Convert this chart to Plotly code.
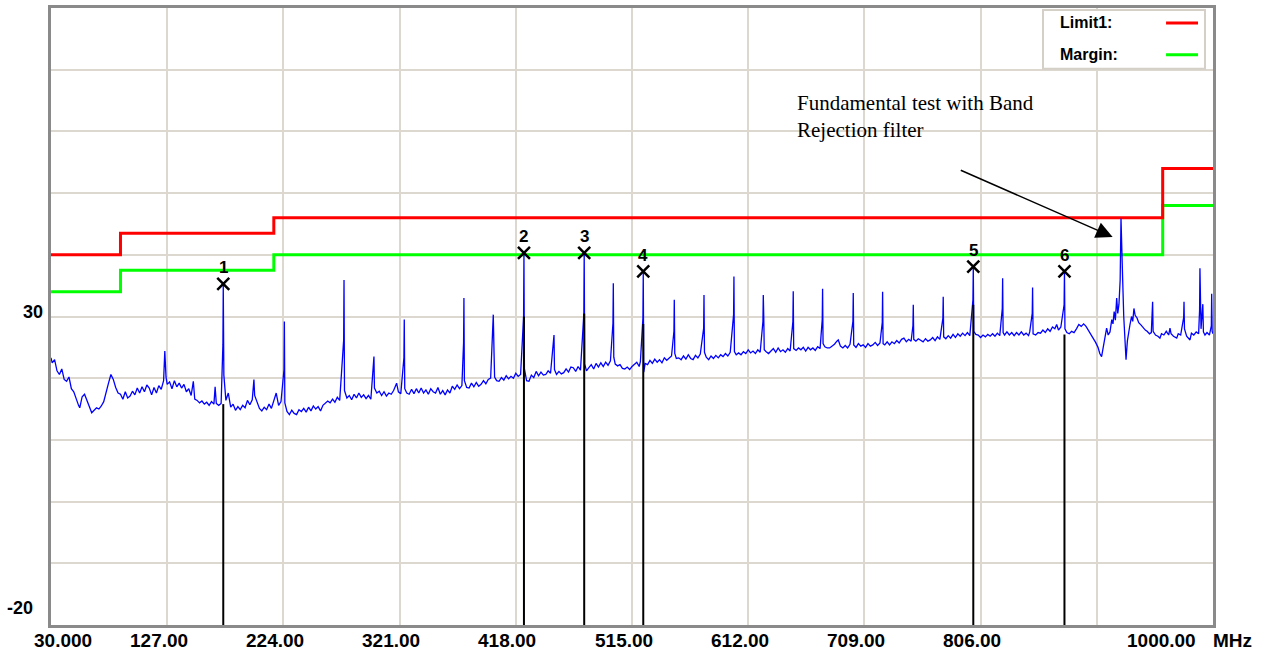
import plotly.graph_objects as go

# ---------------- data ----------------
limit_freq = [30, 88, 216, 958, 1000]
limit1_level = [40.0, 43.5, 46.0, 54.0, 54.0]
margin_level = [34.0, 37.5, 40.0, 48.0, 48.0]

marker_ids = ["1", "2", "3", "4", "5", "6"]
marker_freq = [173.8, 424.8, 475.1, 524.4, 799.9, 876.0]
marker_peak = [35.3, 40.3, 40.3, 37.3, 38.1, 37.3]
marker_qp = [15.8, 30.0, 30.5, 28.8, 31.9, 27.1]

x_tick_vals = [30, 127, 224, 321, 418, 515, 612, 709, 806, 903, 1000]
x_tick_text = ["30.000", "127.00", "224.00", "321.00", "418.00", "515.00",
               "612.00", "709.00", "806.00", "", "1000.00"]
x_unit = "MHz"
y_tick_vals = [30, -20]
y_tick_text = ["30", "-20"]
legend_names = ["Limit1:", "Margin:"]
note_text = "Fundamental test with Band<br>Rejection filter"

# measured trace (frequency MHz, level dBuV/m)
trace_points = [
    (30, 23.3), (31, 22.5), (33, 23.0), (35, 21.2), (37, 20.6), (39, 21.5), (41, 19.8),
    (43, 19.5), (45, 20.2), (47, 18.3), (49, 17.8), (51, 16.5), (53, 15.6), (54, 15.2),
    (56, 17.0), (58, 17.4), (60, 16.3), (62, 15.4), (64, 14.4), (66, 14.8), (68, 15.2),
    (70, 15.0), (72, 15.5), (74, 16.2), (76, 17.5), (78, 19.2), (80, 20.6), (82, 19.8),
    (84, 18.5), (86, 17.6), (88, 17.4), (90, 16.6), (92, 17.8), (94, 16.8), (96, 17.1),
    (98, 17.9), (100, 17.3), (102, 18.4), (104, 17.6), (106, 18.6), (108, 17.8), (110, 18.9),
    (112, 18.4), (114, 17.3), (116, 18.5), (118, 17.6), (120, 18.8), (122, 18.2), (124, 19.6),
    (125, 24.4), (126, 20.2), (127, 19.0), (129, 19.4), (131, 18.3), (133, 19.6), (135, 18.6),
    (137, 19.2), (139, 18.4), (141, 19.0), (143, 17.8), (145, 18.3), (147, 17.2), (148.8, 19.5),
    (150, 16.6), (152, 16.4), (154, 16.0), (156, 16.3), (158, 15.8), (160, 16.1), (162, 15.6),
    (164, 16.2), (166, 15.8), (167, 18.6), (168, 15.9), (170, 15.6), (172, 15.9),
    (173.5, 25.4), (173.8, 35.1), (174.3, 20.5), (176, 16.4), (178, 17.6), (180, 15.3),
    (182, 15.8), (184, 14.8), (186, 15.4), (188, 14.9), (190, 15.6), (192, 15.2), (194, 16.4),
    (196, 15.7), (198, 16.5), (199.4, 19.8), (200, 17.2), (202, 16.0), (204, 15.1), (206, 14.7),
    (208, 15.3), (210, 14.9), (212, 15.8), (214, 15.1), (216, 16.4), (218, 17.6), (220, 15.6),
    (222, 16.2), (224.5, 21.4), (224.8, 29.2), (225.2, 16.0), (227, 14.6), (229, 14.1),
    (231, 14.8), (233, 14.3), (235, 14.1), (237, 14.9), (239, 14.6), (241, 15.1), (243, 14.5),
    (245, 15.3), (247, 14.7), (249, 15.5), (251, 15.0), (253, 15.4), (255, 14.7), (257, 15.6),
    (259, 15.9), (261, 16.3), (263, 16.0), (265, 16.6), (267, 16.1), (269, 16.9), (271, 16.4),
    (274.3, 26.2), (274.6, 35.9), (275, 18.0), (277, 16.8), (279, 17.2), (281, 16.5),
    (283, 17.4), (285, 16.8), (287, 17.6), (289, 16.9), (291, 17.3), (293, 16.7), (295, 17.2),
    (297, 16.6), (299.6, 23.5), (300, 18.4), (302, 17.6), (304, 17.9), (306, 17.2), (308, 17.8),
    (310, 17.1), (312, 17.6), (314, 17.4), (316, 18.0), (318.5, 19.2), (320, 17.8), (322, 17.5),
    (324.6, 23.3), (324.9, 29.5), (325.3, 18.3), (327, 17.6), (329, 17.4), (331, 18.2),
    (333, 17.5), (335, 18.3), (337, 17.6), (339, 18.4), (341, 17.6), (343, 18.1), (345, 17.4),
    (347, 18.3), (349, 17.8), (351, 17.6), (353, 18.5), (355, 17.4), (357, 18.0), (359, 17.3),
    (361, 18.1), (363, 17.6), (365, 18.7), (367, 18.2), (369, 18.9), (371, 18.3), (373, 18.8),
    (374.4, 25.7), (374.7, 33.0), (375.1, 19.6), (377, 18.5), (379, 18.4), (381, 19.2),
    (383, 18.6), (385, 19.3), (387, 18.7), (389, 19.0), (391, 19.6), (393, 19.1), (395, 19.8),
    (397, 20.0), (399.2, 30.3), (399.8, 24.4), (400.3, 20.2), (402, 19.6), (404, 19.5),
    (406, 20.1), (408, 19.7), (410, 20.4), (412, 19.9), (414, 20.3), (416, 20.0), (418, 20.8),
    (420, 20.3), (422, 20.6), (424.5, 30.0), (424.8, 40.3), (425.2, 21.5), (427, 19.6),
    (429, 19.5), (431, 20.5), (433, 20.1), (435, 21.1), (437, 20.4), (439, 21.0), (441, 20.5),
    (443, 20.6), (445, 21.2), (447, 20.8), (449.9, 27.0), (450.3, 21.4), (452, 20.6),
    (454, 21.1), (456, 20.7), (458, 20.9), (460, 21.5), (462, 21.0), (464, 21.8), (466, 21.7),
    (468, 21.1), (470, 21.9), (472, 21.3), (474.8, 30.5), (475.1, 40.5), (475.5, 22.3),
    (477, 21.2), (479, 21.7), (481, 22.2), (483, 21.5), (485, 22.4), (487, 21.8), (489, 22.5),
    (491, 21.9), (493, 22.6), (495, 22.1), (497, 22.8), (499.1, 28.9), (499.4, 35.4),
    (499.8, 23.4), (501, 22.3), (503, 22.0), (505, 22.2), (507, 21.6), (509, 21.5), (511, 21.8),
    (513, 21.4), (515, 21.9), (517, 22.3), (519, 22.6), (521, 21.9), (522, 22.7),
    (524.1, 29.7), (524.4, 37.3), (524.8, 21.0), (526, 22.4), (528, 22.2), (530, 22.9),
    (532, 22.4), (534, 23.1), (536, 22.6), (538, 23.0), (540, 22.5), (542, 23.3), (544, 22.9),
    (546, 23.3), (548, 23.6), (550.0, 27.6), (550.3, 32.7), (550.7, 24.0), (552, 23.2),
    (554, 23.3), (556, 23.0), (558, 23.6), (560, 23.1), (562, 23.8), (564, 23.2), (566, 23.0),
    (568, 23.7), (570, 23.3), (572, 23.9), (574.8, 28.1), (575.1, 33.5), (575.5, 24.2),
    (577, 23.4), (579, 23.0), (581, 23.6), (583, 23.2), (585, 23.7), (587, 23.3), (589, 23.8),
    (591, 23.5), (593, 24.0), (595, 23.6), (597, 24.2), (599.8, 30.3), (600.1, 36.5),
    (600.5, 24.3), (602, 23.8), (604, 24.1), (606, 23.8), (608, 24.3), (610, 24.0), (612, 24.6),
    (614, 24.1), (616, 24.4), (618, 24.0), (620, 24.6), (622, 24.2), (624.3, 29.2),
    (624.6, 33.5), (625.0, 30.0), (625.4, 24.6), (627, 24.3), (629, 24.0), (631, 24.4),
    (633, 24.8), (635, 24.2), (637, 24.9), (639, 24.3), (641, 24.6), (643, 24.2), (645, 24.8),
    (647, 24.4), (649.3, 29.2), (649.6, 34.1), (650, 24.8), (652, 24.5), (654, 24.9),
    (656, 24.6), (658, 25.0), (660, 24.4), (662, 25.0), (664, 24.6), (666, 24.9), (668, 24.5),
    (670, 25.1), (672, 24.8), (673.8, 29.5), (674.1, 34.5), (674.5, 25.6), (676, 25.1),
    (678, 24.9), (680, 24.9), (682, 25.2), (684, 25.5), (686, 26.0), (687.2, 26.2), (689, 25.2),
    (691, 24.9), (693, 25.3), (695, 24.9), (697, 25.5), (699.4, 29.2), (699.7, 33.8),
    (700.1, 25.4), (702, 25.0), (704, 25.6), (706, 25.2), (708, 25.4), (710, 25.0), (712, 25.6),
    (714, 25.2), (716, 25.4), (718, 25.8), (720, 25.3), (722, 25.7), (723.9, 29.0),
    (724.2, 34.0), (724.6, 25.6), (726, 25.4), (728, 25.9), (730, 25.4), (732, 25.9),
    (734, 25.6), (736, 26.1), (738, 25.7), (740, 26.3), (742, 26.5), (744, 25.9), (746, 26.3),
    (748, 26.0), (749.5, 28.5), (749.8, 31.9), (750.2, 26.3), (752, 26.0), (754, 26.4),
    (756, 26.2), (758, 25.9), (760, 26.4), (762, 26.0), (764, 26.2), (766, 26.6), (768, 26.1),
    (770, 26.7), (772, 26.3), (774.5, 29.7), (774.8, 33.2), (775.2, 26.7), (777, 26.4),
    (779, 26.9), (781, 26.5), (783, 27.1), (785, 26.6), (787, 27.2), (789, 26.8), (791, 27.3),
    (793, 26.9), (795, 27.4), (797, 26.9), (799.6, 32.7), (799.9, 38.1), (800.3, 27.6),
    (802, 27.1), (804, 27.0), (806, 26.6), (808, 27.0), (810, 26.7), (812, 27.1), (814, 26.8),
    (816, 27.2), (818, 26.8), (820, 27.3), (822, 26.9), (824.1, 31.3), (824.4, 36.2),
    (824.8, 27.4), (826, 27.0), (828, 27.5), (830, 27.0), (832, 27.4), (834, 26.9), (836, 27.4),
    (838, 27.0), (840, 27.5), (842, 27.0), (844, 27.3), (846, 26.9), (847, 27.5),
    (849.1, 30.5), (849.4, 34.7), (849.8, 27.2), (852, 27.0), (854, 27.4), (856, 27.3),
    (858, 27.8), (860, 27.4), (862, 28.0), (864, 27.6), (866, 28.3), (868, 28.0), (869.5, 28.7),
    (871, 27.8), (873, 28.3), (875.7, 31.9), (876.0, 37.3), (876.4, 28.0), (878, 27.4),
    (880, 27.2), (882, 27.6), (884, 27.4), (886, 28.0), (888, 28.7), (890, 28.4), (892, 28.8),
    (894, 28.4), (896, 27.8), (898, 27.0), (900, 26.5), (902, 25.8), (904, 25.0), (905.5, 24.0),
    (907, 23.5), (908.5, 25.2), (910, 27.0), (911.2, 28.1), (912.5, 27.0), (914, 27.5),
    (915.5, 29.5), (916.5, 28.8), (917.5, 30.8), (918.5, 29.4), (919.6, 33.0), (920.5, 30.5),
    (921.5, 32.0), (922.5, 35.9), (923.2, 45.9), (924.0, 38.0), (924.6, 35.9), (925.5, 30.0),
    (926.4, 25.5), (927.4, 23.0), (928.5, 26.0), (929.5, 27.5), (930.7, 28.7), (932, 30.0),
    (933, 29.2), (934, 31.3), (935, 30.2), (936.5, 29.8), (938, 29.0), (940, 28.6),
    (941.8, 28.1), (943.5, 27.8), (945, 27.6), (947, 27.2), (948.5, 27.4), (949.3, 30.5),
    (949.6, 32.4), (950, 27.6), (952, 27.0), (954, 26.8), (955.7, 26.5), (957, 27.2),
    (959, 27.0), (961, 27.6), (963, 27.0), (964.1, 28.1), (965, 27.2), (967, 26.8),
    (969.7, 26.5), (971, 27.2), (973, 27.0), (975.5, 29.8), (975.8, 32.4), (976.2, 28.0),
    (978, 26.8), (980.8, 26.2), (982, 27.3), (984, 27.0), (986, 27.5), (988, 27.2),
    (988.8, 31.0), (989.1, 37.8), (989.5, 32.0), (990, 28.0), (991.5, 32.0), (992, 27.5),
    (993.3, 27.0), (995, 27.4), (997, 27.0), (998.6, 28.5), (998.9, 33.7), (999.3, 27.6),
    (1000, 27.2),
]

trace_freq = [p[0] for p in trace_points]
trace_level = [p[1] for p in trace_points]

# ---------------- figure ----------------
fig = go.Figure()

fig.add_trace(go.Scatter(x=limit_freq, y=margin_level, mode="lines", line_shape="hv",
                         line=dict(color="#00ff00", width=3), hoverinfo="skip"))
fig.add_trace(go.Scatter(x=limit_freq, y=limit1_level, mode="lines", line_shape="hv",
                         line=dict(color="#ff0000", width=3), hoverinfo="skip"))
fig.add_trace(go.Scatter(x=trace_freq, y=trace_level, mode="lines",
                         line=dict(color="#0000ff", width=1.3)))

# black marker (measurement) lines from the floor up
vx, vy = [], []
for f, q in zip(marker_freq, marker_qp):
    vx += [f, f, None]
    vy += [-20, q, None]
fig.add_trace(go.Scatter(x=vx, y=vy, mode="lines", line=dict(color="#000000", width=2),
                         hoverinfo="skip"))

fig.add_trace(go.Scatter(x=marker_freq, y=marker_peak, mode="markers",
                         marker=dict(symbol="x-thin", size=12,
                                     line=dict(color="#000000", width=2.5))))

annotations = []
for mid, f, p in zip(marker_ids, marker_freq, marker_peak):
    annotations.append(dict(x=f, y=p, xref="x", yref="y", text="<b>%s</b>" % mid,
                            showarrow=False, yshift=16, yanchor="middle",
                            font=dict(family="Liberation Sans, Arial", size=17, color="#000")))

tick_font = dict(family="Liberation Sans, Arial", size=19, color="#000")
n = len(x_tick_vals)
for i, (v, t) in enumerate(zip(x_tick_vals, x_tick_text)):
    if not t:
        continue
    shift = -8.5
    if i == 0:
        shift = 12
    elif i == n - 1:
        shift = -52
    annotations.append(dict(x=v, y=0, xref="x", yref="paper", text="<b>%s</b>" % t,
                            showarrow=False, yanchor="top", yshift=-3, xshift=shift,
                            font=tick_font))
annotations.append(dict(x=x_tick_vals[-1], y=0, xref="x", yref="paper",
                        text="<b>%s</b>" % x_unit, showarrow=False, yanchor="top",
                        yshift=-3, xshift=19, font=tick_font))

y_shifts = [5, 17]
x_shifts = [-6, -16]
for v, t, ys, xs in zip(y_tick_vals, y_tick_text, y_shifts, x_shifts):
    annotations.append(dict(x=0, y=v, xref="paper", yref="y", text="<b>%s</b>" % t,
                            showarrow=False, xanchor="right", yanchor="middle",
                            yshift=ys, xshift=xs,
                            font=dict(family="Liberation Sans, Arial", size=18, color="#000")))

# note + arrow
annotations.append(dict(x=651, y=0.868, xref="x", yref="paper", text=note_text,
                        showarrow=False, xanchor="left", yanchor="top", align="left",
                        font=dict(family="Liberation Serif, Times New Roman", size=21,
                                  color="#000")))
annotations.append(dict(x=916.2, y=42.9, xref="x", yref="y", ax=788.2, ay=53.8,
                        axref="x", ayref="y", text="", showarrow=True, arrowhead=2,
                        arrowsize=2.2, arrowwidth=1.5, arrowcolor="#000"))

# legend box
shapes = [dict(type="rect", xref="paper", yref="paper", x0=0.8537, x1=0.9931,
               y0=0.9016, y1=0.9968, line=dict(color="#d4d0c8", width=2),
               fillcolor="#ffffff", layer="above")]
legend_colors = ["#ff0000", "#00ff00"]
legend_y = [0.9758, 0.9242]
for name, col, ly in zip(legend_names, legend_colors, legend_y):
    annotations.append(dict(x=0.8666, y=ly, xref="paper", yref="paper",
                            text="<b>%s</b>" % name, showarrow=False, xanchor="left",
                            yanchor="middle",
                            font=dict(family="Liberation Sans, Arial", size=16, color="#000")))
    shapes.append(dict(type="line", xref="paper", yref="paper", x0=0.9596, x1=0.9871,
                       y0=ly, y1=ly, line=dict(color=col, width=3), layer="above"))

fig.update_layout(
    width=1266, height=654, autosize=False,
    margin=dict(l=51, r=53, t=5, b=29),
    paper_bgcolor="#ffffff", plot_bgcolor="#ffffff",
    showlegend=False, hovermode=False,
    annotations=annotations, shapes=shapes,
    xaxis=dict(range=[30, 1000], tick0=30, dtick=97, showgrid=True,
               gridcolor="#dcd8d0", gridwidth=2, showticklabels=False, ticks="",
               zeroline=False, showline=True, mirror=True, linecolor="#8a8a8a",
               linewidth=3),
    yaxis=dict(range=[-20, 80], tick0=-20, dtick=10, showgrid=True,
               gridcolor="#dcd8d0", gridwidth=2, showticklabels=False, ticks="",
               zeroline=False, showline=True, mirror=True, linecolor="#8a8a8a",
               linewidth=3),
)

fig.write_html("out.html", config={"displayModeBar": False},
               post_script="document.body.style.margin='0';document.body.style.padding='0';")
